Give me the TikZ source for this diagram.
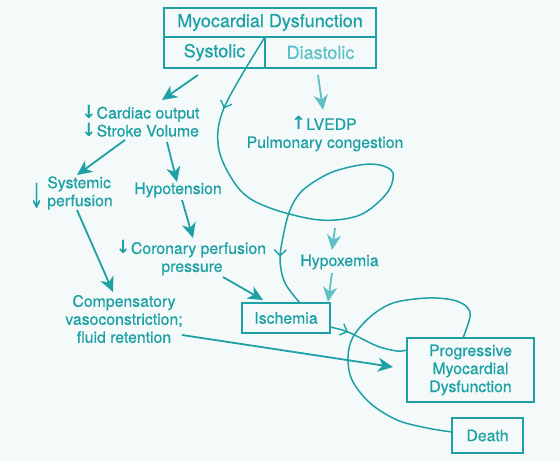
\documentclass[tikz,border=0pt]{standalone}
\usepackage{fontspec}
\usepackage{graphicx}
\setmainfont{TeX Gyre Heros}[FakeBold=0.6]
\newfontfamily\arrfont{DejaVu Sans Bold}
\newfontfamily\arrfontt{DejaVu Sans}
\usetikzlibrary{arrows.meta,decorations.markings}
\definecolor{bg}{RGB}{244,250,249}
\definecolor{tl}{RGB}{30,160,165}
\definecolor{tll}{RGB}{95,192,198}
\newcommand{\dnar}{{\arrfont\kern-2pt\scalebox{1.1}[1.15]{↓}\kern0.5pt}}
\newcommand{\upar}{{\arrfont\kern-2pt\scalebox{1.1}[1.15]{↑}\kern0.5pt}}
\begin{document}
\begin{tikzpicture}[x=1pt,y=-1pt,
  txt/.style={font=\fontsize{15.8}{18}\selectfont, text=tl, inner sep=0pt, align=center},
  box/.style={draw=tl, line width=1.8pt, fill=bg, inner sep=0pt, outer sep=0pt, text=tl, font=\fontsize{15.8}{18}\selectfont, align=center},
  topbox/.style={box, font=\fontsize{18}{20}\selectfont},
  conn/.style={draw=tl, line width=1.8pt, -{Stealth[length=15pt,width=14pt,inset=4.5pt]}},
  connl/.style={conn, draw=tll},
  loopline/.style={draw=tl, line width=1.5pt},
]
\path[use as bounding box, fill=bg] (0,0) rectangle (560,461);

% top box
\node[topbox, minimum width=212pt, minimum height=29pt] (md) at (270,22.5) {Myocardial Dysfunction};
\node[topbox, minimum width=101pt, minimum height=31pt] (sys) at (214.5,52.5) {Systolic};
\node[topbox, minimum width=111pt, minimum height=31pt, text=tll] (dia) at (320.5,52.5) {Diastolic};

% text nodes
\node[txt, align=left] (co) at (141.5,121) {\dnar Cardiac output\\\dnar Stroke Volume};
\node[txt, align=left] (sp) at (80,193) {Systemic\\perfusion};
\node[txt] (sa) at (37.5,195.5) {\arrfontt\scalebox{0.6}[1.15]{\fontsize{30}{30}\selectfont ↓}};
\node[txt] (hyp) at (178,190) {Hypotension};
\node[txt] (cor) at (192,258) {\dnar Coronary perfusion\\pressure};
\node[txt] (comp) at (124,319) {Compensatory\\vasoconstriction;\\fluid retention};
\node[txt] (lv) at (325,134) {\upar LVEDP\\Pulmonary congestion};
\node[txt] (hx) at (339.5,262) {Hypoxemia};

% boxes
\node[box, minimum width=88pt, minimum height=30pt] (isch) at (286,318) {Ischemia};
\node[box, minimum width=127pt, minimum height=64pt] (prog) at (470.5,370) {Progressive\\Myocardial\\Dysfunction};
\node[box, minimum width=71pt, minimum height=35pt] (death) at (487.5,435.5) {Death};

% straight arrows
\draw[conn] ([shift={(-16.5,22.5)}]sys.center) -- ([shift={(20.5,-21)}]co.center);
\draw[connl] ([shift={(-2.5,22.5)}]dia.center) -- ([shift={(-2,-24)}]lv.center);
\draw[conn] ([shift={(-16.5,19)}]co.center) -- ([shift={(-3,-18)}]sp.center);
\draw[conn] ([shift={(25.5,21)}]co.center) -- ([shift={(-1,-8)}]hyp.center);
\draw[conn] ([shift={(4,10)}]hyp.center) -- ([shift={(1,-20)}]cor.center);
\draw[conn] ([shift={(-3,17)}]sp.center) -- ([shift={(-11,-27)}]comp.center);
\draw[conn] ([shift={(31,19)}]cor.center) -- ([shift={(-23,-18)}]isch.center);
\draw[conn] ([shift={(58,16)}]comp.center) -- ([shift={(-77.5,-3)}]prog.center);
\coordinate (hxs) at (335,228);
\draw[connl] (hxs) -- ([shift={(-7.5,-12)}]hx.center);
\draw[connl] ([shift={(-7.5,11)}]hx.center) -- ([shift={(42,-16)}]isch.center);

% loop curve 1
\draw[loopline, postaction=decorate, decoration={markings,
   mark=at position 0.143 with {\arrow[tl]{Straight Barb[length=6pt,width=12pt,line width=1.4pt]}},
   mark=at position 0.91 with {\arrow[tl]{Straight Barb[length=6pt,width=12pt,line width=1.4pt]}}}]
  plot[smooth, tension=0.55] coordinates {([shift={(-5,14.5)}]md.center) (224,108) (219,150) (240,190) (270,208) (320,220) (360,215) (387,193) (393,173) (380,165) (360,165) (330,173) (303,190) (290,210) (283,237) (280,260) (285,283) ([shift={(14,-15)}]isch.center)};

% loop curve 2
\draw[loopline, postaction=decorate, decoration={markings,
   mark=at position 0.23 with {\arrow[tl]{Straight Barb[length=6pt,width=12pt,line width=1.4pt]}}}]
  plot[smooth, tension=0.55] coordinates {([shift={(44,9)}]isch.center) (348,332) (377,346) (397,351) ([shift={(-63.5,-20)}]prog.center)};
\draw[loopline]
  plot[smooth, tension=0.55] coordinates {([shift={(-7.5,-32)}]prog.center) (470,317) (467,307) (453,300) (427,298) (393,303) (370,317) (353,337) (348,357) (352,380) (370,403) (397,420) (427,428) ([shift={(-35.5,-3.5)}]death.center)};
\end{tikzpicture}
\end{document}
